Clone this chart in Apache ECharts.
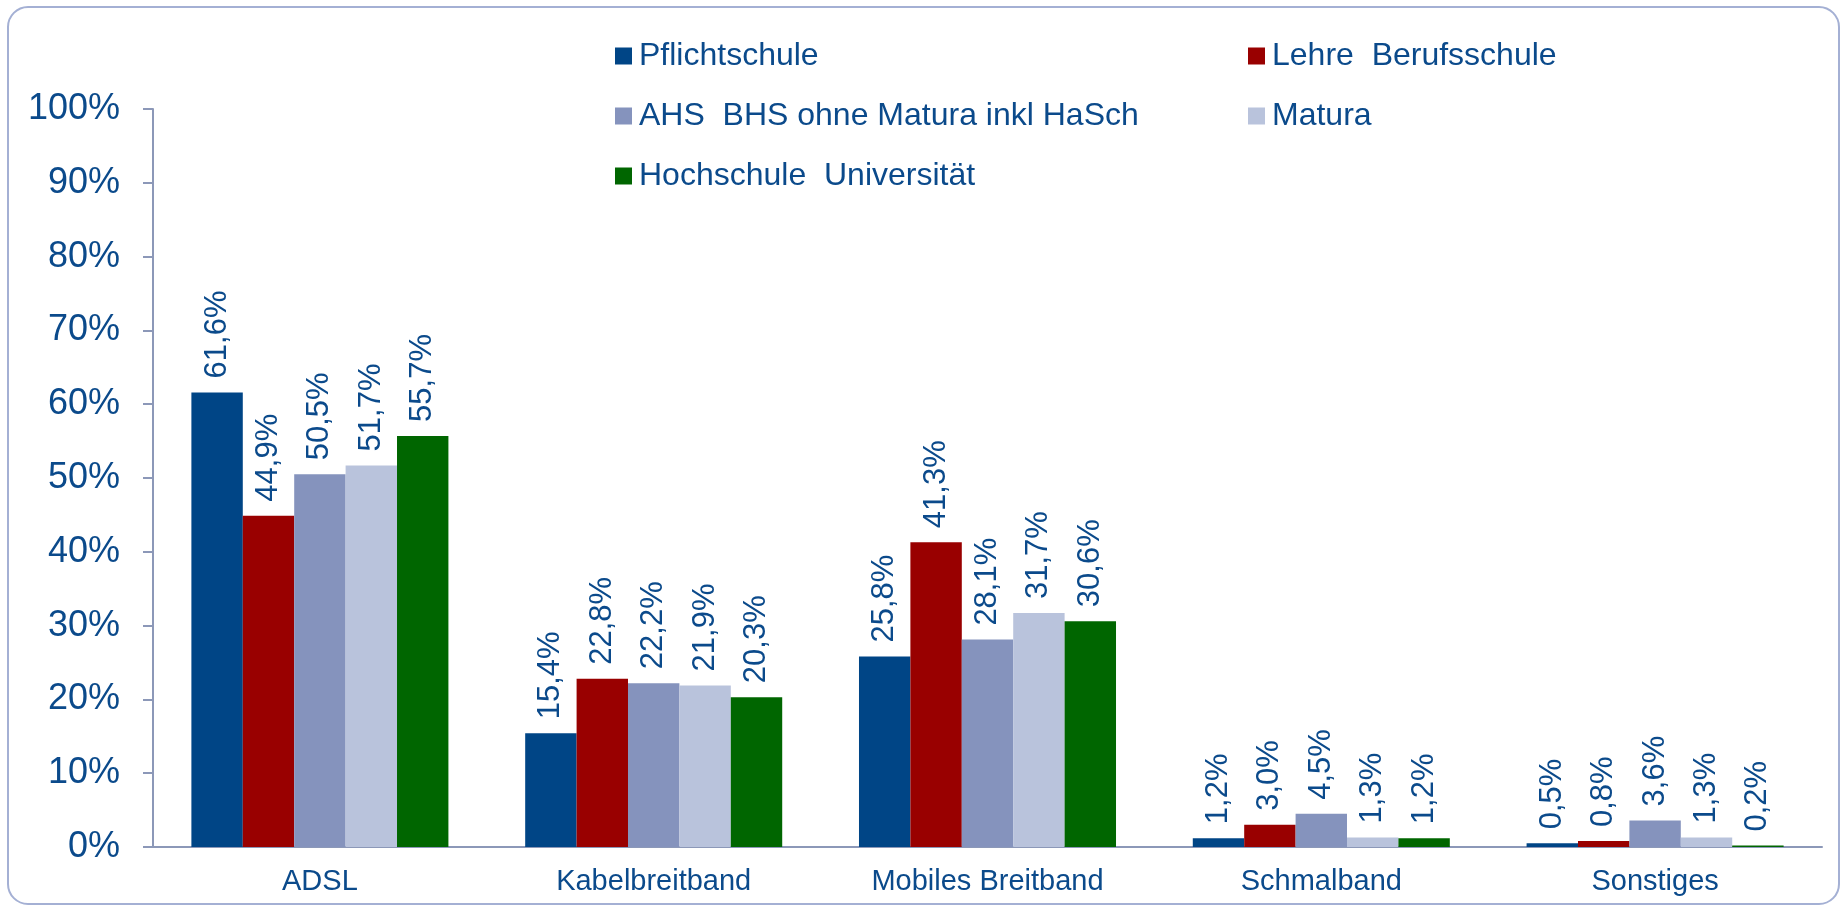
<!DOCTYPE html>
<html>
<head>
<meta charset="utf-8">
<title>Breitband nach Bildung</title>
<script src="https://cdn.jsdelivr.net/npm/echarts@6/dist/echarts.min.js"></script>
<style>
    html, body { margin: 0; padding: 0; background: #fff; }
    #chart { width: 1841px; height: 908px; }
</style>
</head>
<body>
<div id="chart"></div>
<script>
var categories = ['ADSL', 'Kabelbreitband', 'Mobiles Breitband', 'Schmalband', 'Sonstiges'];
var seriesNames = ['Pflichtschule', 'Lehre  Berufsschule', 'AHS  BHS ohne Matura inkl HaSch', 'Matura', 'Hochschule  Universität'];
var pflichtschule = [61.6, 15.4, 25.8, 1.2, 0.5];
var lehre = [44.9, 22.8, 41.3, 3.0, 0.8];
var ahsBhs = [50.5, 22.2, 28.1, 4.5, 3.6];
var matura = [51.7, 21.9, 31.7, 1.3, 1.3];
var hochschule = [55.7, 20.3, 30.6, 1.2, 0.2];
var colors = ['#004586', '#990000', '#8593bd', '#b9c3dc', '#006600'];

var textColor = '#0b4a8b';
var axisColor = '#8c98b8';
var font = '"Liberation Sans", Arial, sans-serif';

var formatPct = function (v) {
    return v.toFixed(1).replace('.', ',') + '%';
};

var makeSeries = function (name, data, color) {
    return {
        name: name,
        type: 'bar',
        data: data,
        barGap: '0%',
        barCategoryGap: '23%',
        itemStyle: {color: color},
        label: {
            show: true,
            position: 'top',
            rotate: 90,
            align: 'left',
            verticalAlign: 'middle',
            distance: 14,
            color: textColor,
            fontFamily: font,
            fontSize: 31,
            formatter: function (p) {
                return formatPct(p.value);
            }
        }
    };
};

var legendBase = function (left, names) {
    return {
        orient: 'vertical',
        left: left,
        top: 33,
        itemWidth: 17,
        itemHeight: 17,
        itemGap: 24,
        icon: 'rect',
        selectedMode: false,
        data: names,
        textStyle: {
            color: textColor,
            fontFamily: font,
            fontSize: 32,
            lineHeight: 36,
            padding: [0, 0, 0, 2]
        }
    };
};

var chart = echarts.init(document.getElementById('chart'));
var option = {
    backgroundColor: '#fff',
    animation: false,
    color: colors,
    graphic: [{
        type: 'rect',
        shape: {x: 8, y: 7, width: 1831, height: 897, r: 20},
        style: {fill: 'none', stroke: '#a4b0d4', lineWidth: 2},
        z: -1
    }],
    legend: [
        legendBase(610, [seriesNames[0], seriesNames[2], seriesNames[4]]),
        legendBase(1243, [seriesNames[1], seriesNames[3]])
    ],
    grid: {left: 153, right: 19, top: 109, bottom: 61},
    xAxis: {
        type: 'category',
        data: categories,
        axisLine: {lineStyle: {color: axisColor, width: 2}},
        axisTick: {length: 9, lineStyle: {color: axisColor, width: 2}},
        axisLabel: {color: textColor, fontFamily: font, fontSize: 29, margin: 20}
    },
    yAxis: {
        type: 'value',
        min: 0,
        max: 100,
        interval: 10,
        axisLine: {show: true, lineStyle: {color: axisColor, width: 2}},
        axisTick: {show: true, length: 10, lineStyle: {color: axisColor, width: 2}},
        splitLine: {show: false},
        axisLabel: {
            color: textColor,
            fontFamily: font,
            fontSize: 36,
            margin: 33,
            formatter: '{value}%'
        }
    },
    series: [
        makeSeries(seriesNames[0], pflichtschule, colors[0]),
        makeSeries(seriesNames[1], lehre, colors[1]),
        makeSeries(seriesNames[2], ahsBhs, colors[2]),
        makeSeries(seriesNames[3], matura, colors[3]),
        makeSeries(seriesNames[4], hochschule, colors[4])
    ]
};
chart.setOption(option);
</script>
</body>
</html>
